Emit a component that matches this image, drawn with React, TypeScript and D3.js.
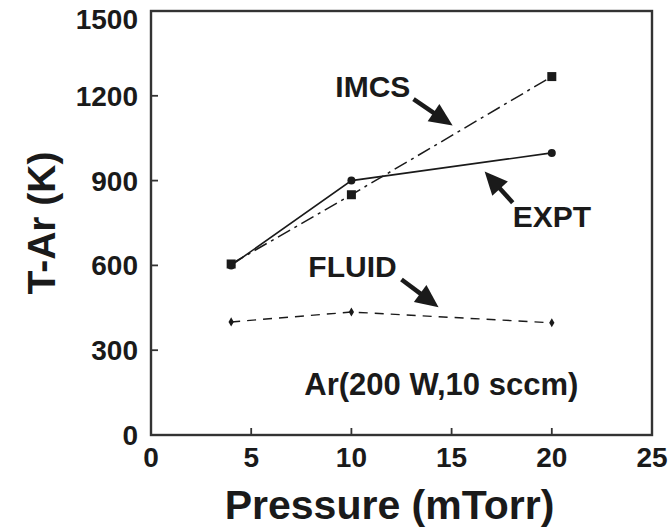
import React from "react";
import * as d3 from "d3";

const pressure = [4, 10, 20];
const imcs = [605, 850, 1268];
const expt = [600, 900, 998];
const fluid = [400, 435, 397];
const xTicks = [0, 5, 10, 15, 20, 25];
const yTicks = [0, 300, 600, 900, 1200, 1500];

// annotations in data units
const labels = [
  { text: "IMCS", x: 9.2, y: 1196 },
  { text: "EXPT", x: 18.05, y: 736 },
  { text: "FLUID", x: 7.85, y: 559 },
];
const arrows = [
  { x1: 13.1, y1: 1188, x2: 15.05, y2: 1095 },
  { x1: 18.05, y1: 822, x2: 16.65, y2: 932 },
  { x1: 12.5, y1: 550, x2: 14.35, y2: 452 },
];
const caption = { text: "Ar(200 W,10 sccm)", x: 7.65, y: 141 };

const W = 672, H = 530;
const L = 151, R = 652, T = 11, B = 435;
const FONT = "'Liberation Sans', Arial, sans-serif";
const INK = "#1a1a1a";

export default function App() {
  const x = d3.scaleLinear().domain([0, 25]).range([L, R]);
  const y = d3.scaleLinear().domain([0, 1500]).range([B, T]);
  const line = (vals: number[]) =>
    d3.line<number>().x((_, i) => x(pressure[i])).y((v) => y(v))(vals) || "";

  const arrowPath = (a: typeof arrows[0]) => {
    const x1 = x(a.x1), y1 = y(a.y1), x2 = x(a.x2), y2 = y(a.y2);
    const dx = x2 - x1, dy = y2 - y1;
    const len = Math.hypot(dx, dy);
    const ux = dx / len, uy = dy / len;
    const hl = 23, hw = 10.5;
    const bx = x2 - ux * hl, by = y2 - uy * hl;
    return {
      shaft: `M${x1},${y1}L${bx + ux * 2},${by + uy * 2}`,
      head: `M${x2},${y2}L${bx - uy * hw},${by + ux * hw}L${bx + uy * hw},${by - ux * hw}Z`,
    };
  };

  return (
    <svg width={W} height={H} style={{ position: "absolute", left: 0, top: 0, background: "#fff" }}>
      <rect width={W} height={H} fill="#fff" />
      {/* frame */}
      <rect x={L} y={T} width={R - L} height={B - T} fill="none" stroke="#333" strokeWidth={2.4} />
      {/* ticks */}
      {xTicks.slice(1, -1).map((t) => (
        <line key={"xt" + t} x1={x(t)} x2={x(t)} y1={B} y2={B - 7} stroke="#333" strokeWidth={1.8} />
      ))}
      {yTicks.slice(1, -1).map((t) => (
        <line key={"yt" + t} x1={L} x2={L + 7} y1={y(t)} y2={y(t)} stroke="#333" strokeWidth={1.8} />
      ))}
      {xTicks.map((t) => (
        <text key={"xl" + t} x={x(t)} y={467} textAnchor="middle" fontFamily={FONT} fontWeight="bold" fontSize={28} fill={INK}>
          {t}
        </text>
      ))}
      {yTicks.map((t) => (
        <text key={"yl" + t} x={138} y={Math.max(y(t), 19)} dy="0.36em" textAnchor="end" fontFamily={FONT} fontWeight="bold" fontSize={28} fill={INK}>
          {t}
        </text>
      ))}
      {/* axis titles */}
      <text x={(L + R) / 2 - 12} y={519} textAnchor="middle" fontFamily={FONT} fontWeight="bold" fontSize={41} fill={INK}>
        Pressure (mTorr)
      </text>
      <text transform={`translate(55,${(T + B) / 2}) rotate(-90)`} textAnchor="middle" fontFamily={FONT} fontWeight="bold" fontSize={39} fill={INK}>
        T-Ar (K)
      </text>
      {/* series */}
      <path d={line(imcs)} fill="none" stroke={INK} strokeWidth={1.5} strokeDasharray="14,5,3,5" />
      <path d={line(expt)} fill="none" stroke={INK} strokeWidth={1.6} />
      <path d={line(fluid)} fill="none" stroke={INK} strokeWidth={1.4} strokeDasharray="9,7" />
      {imcs.map((v, i) => (
        <rect key={"im" + i} x={x(pressure[i]) - 4.5} y={y(v) - 4.5} width={9} height={9} fill={INK} />
      ))}
      {expt.map((v, i) => (
        <circle key={"ex" + i} cx={x(pressure[i])} cy={y(v)} r={4} fill={INK} />
      ))}
      {fluid.map((v, i) => (
        <path key={"fl" + i} d={d3.symbol(d3.symbolDiamond, 24)() || ""} transform={`translate(${x(pressure[i])},${y(v)})`} fill={INK} />
      ))}
      {/* annotations */}
      {labels.map((l) => (
        <text key={l.text} x={x(l.x)} y={y(l.y)} fontFamily={FONT} fontWeight="bold" fontSize={30} fill={INK}>
          {l.text}
        </text>
      ))}
      {arrows.map((a, i) => {
        const p = arrowPath(a);
        return (
          <g key={"ar" + i}>
            <path d={p.shaft} stroke={INK} strokeWidth={4.5} fill="none" />
            <path d={p.head} fill={INK} />
          </g>
        );
      })}
      <text x={x(caption.x)} y={y(caption.y)} fontFamily={FONT} fontWeight="bold" fontSize={31} fill={INK}>
        {caption.text}
      </text>
    </svg>
  );
}
